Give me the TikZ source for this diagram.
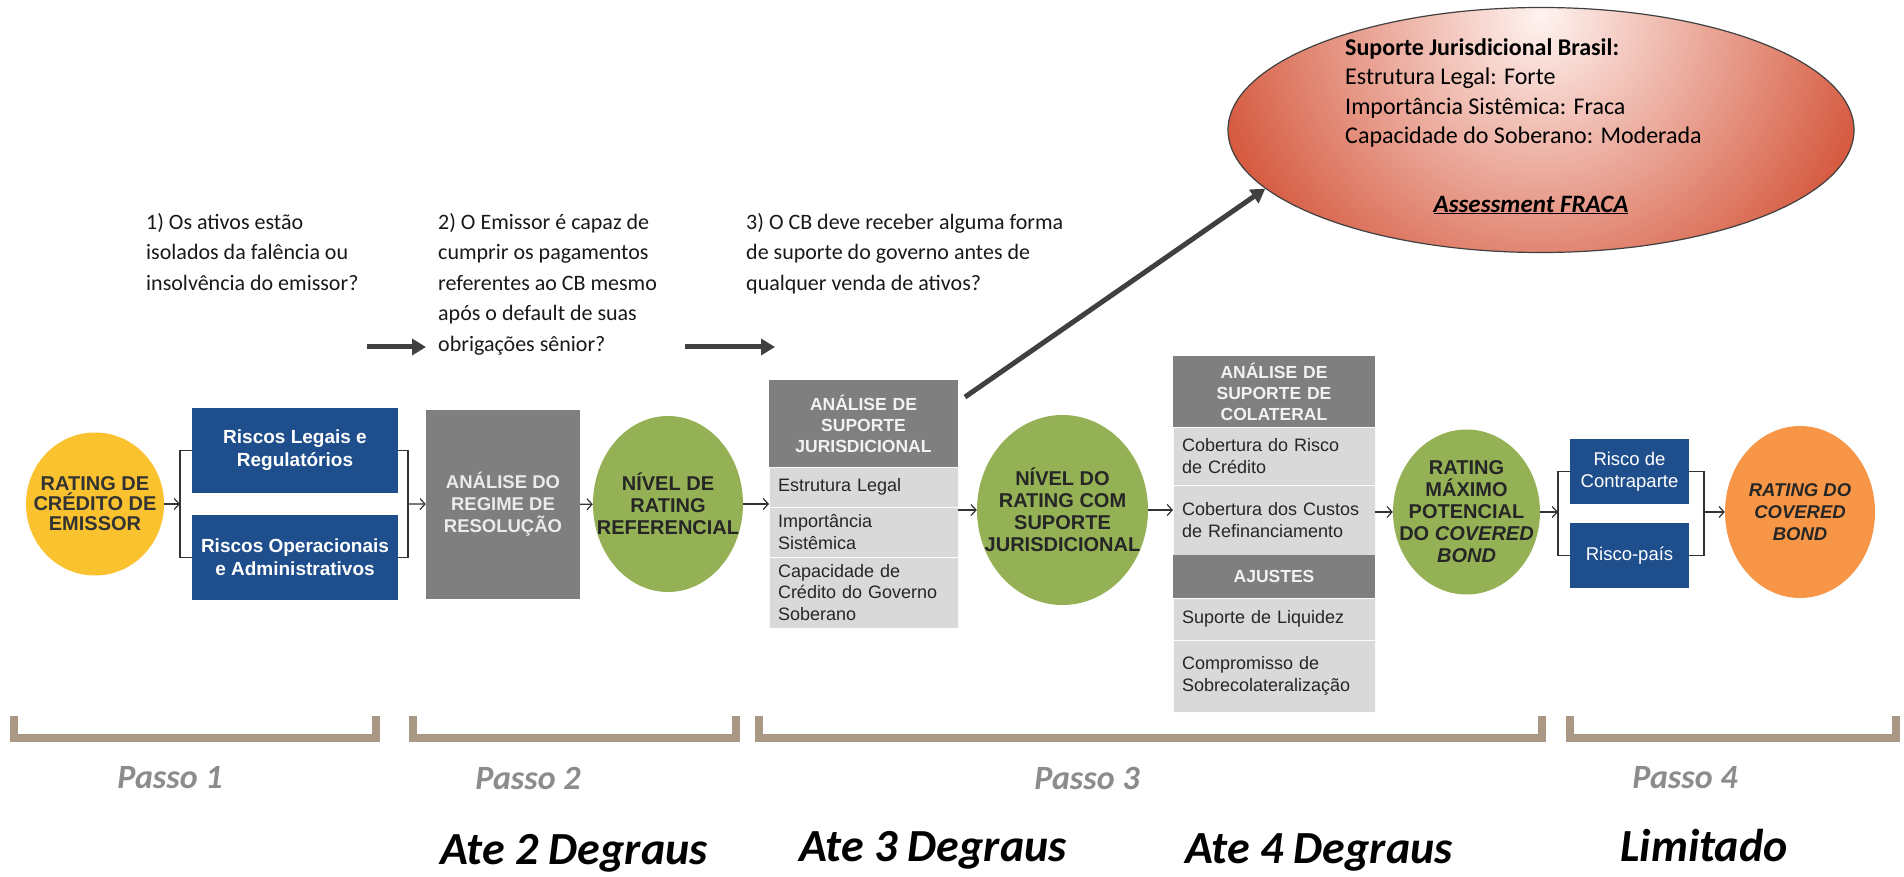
\documentclass[tikz,border=0pt]{standalone}
\usepackage{fontspec}
\setmainfont{Carlito}
\newfontfamily\arialfont{Liberation Sans}
\usetikzlibrary{positioning,shapes.geometric,arrows.meta}
\definecolor{gold}{HTML}{F9C22E}
\definecolor{navy}{HTML}{1F4E8C}
\definecolor{slate}{HTML}{7F7F7F}
\definecolor{cell}{HTML}{D9D9D9}
\definecolor{leaf}{HTML}{94B255}
\definecolor{tangerine}{HTML}{F79646}
\definecolor{ink}{HTML}{404040}
\definecolor{sand}{HTML}{A89884}
\definecolor{steel}{HTML}{8C8C8C}
\definecolor{braIn}{HTML}{FFF3F0}
\definecolor{braOut}{HTML}{D4553A}
\tikzstyle{state}=[
    ellipse,
    inner sep = -22pt,
    align = center,
    text = black!85,
    font = \arialfont\bfseries\fontsize{20}{22}\selectfont
]
\tikzstyle{blue box}=[
    fill = navy,
    text = white,
    align = center,
    font = \arialfont\bfseries\fontsize{19}{23}\selectfont
]
\tikzstyle{head cell}=[
    fill = slate,
    text = white!95!black,
    align = center,
    text width = 173pt,
    inner xsep = 8pt,
    inner ysep = 3pt,
    outer sep = 0pt,
    font = \arialfont\bfseries\fontsize{17.5}{21}\selectfont
]
\tikzstyle{row cell}=[
    fill = cell,
    draw = white!90!cell,
    line width = 1pt,
    text = black!85,
    align = left,
    text width = 171pt,
    inner xsep = 9pt,
    inner ysep = 3pt,
    outer sep = 0pt,
    font = \arialfont\fontsize{18}{21.5}\selectfont
]

\begin{document}
\begin{tikzpicture}[x=1pt, y=-1pt,
    line/.style = {draw = black!80, line width = 1.2pt},
    thin arrow/.style = {line, -{Straight Barb[length=5pt, width=11pt]}},
    big arrow/.style = {draw = ink, line width = 5pt, -{Triangle[length=14pt, width=16pt]}},
    bracket/.style = {draw = sand, line width = 8pt},
    question/.style = {anchor = north west, align = left, inner sep = 0pt, text = black!90, font = \fontsize{22}{30.5}\selectfont},
    passo/.style = {text = steel, font = \bfseries\itshape\fontsize{34}{38}\selectfont},
    degraus/.style = {font = \bfseries\itshape\fontsize{46}{50}\selectfont}]
    \fill[white] (0,0) rectangle (1904,877);
    \useasboundingbox (0,0) rectangle (1904,877);

    \node[question] (q1) at (146,213) {1) Os ativos estão\\isolados da falência ou\\insolvência do emissor?};
    \node[question] (q2) at (438,213) {2) O Emissor é capaz de\\cumprir os pagamentos\\referentes ao CB mesmo\\após o default de suas\\obrigações sênior?};
    \node[question] (q3) at (746,213) {3) O CB deve receber alguma forma\\de suporte do governo antes de\\qualquer venda de ativos?};
    \coordinate (q1a) at (367,347);
    \coordinate (q1b) at (426,347);
    \coordinate (q2a) at (685,347);
    \coordinate (q2b) at (775,347);
    \draw[big arrow] (q1a) -- (q1b);
    \draw[big arrow] (q2a) -- (q2b);

    \node[ellipse, draw = ink, line width = 1.2pt, minimum width = 626pt, minimum height = 245pt,
        path picture = {\shade[inner color = braIn, outer color = braOut]
            ([yshift=-8pt]path picture bounding box.north) circle (345pt);}] (bra) at (1541,130) {};
    \node[anchor = north west, align = left, inner sep = 0pt, font = \fontsize{24}{29.5}\selectfont] (bt) at (1345,38)
        {\textbf{Suporte Jurisdicional Brasil:}\\Estrutura Legal: Forte\\Importância Sistêmica: Fraca\\Capacidade do Soberano: Moderada};
    \node[font = \bfseries\itshape\fontsize{25}{28}\selectfont] (ass) at (1531,205) {\underline{Assessment FRACA}};

    \node[state, fill = gold, minimum width = 138pt, minimum height = 143pt, text = black!80,
        font = \arialfont\bfseries\fontsize{20}{20}\selectfont] (emi) at (95,504) {RATING DE\\CRÉDITO DE\\EMISSOR};
    \node[blue box, minimum width = 206pt, minimum height = 85pt] (rl) at (295,450.5) {Riscos Legais e\\Regulatórios};
    \node[blue box, minimum width = 206pt, minimum height = 85pt] (ro) at (295,557.5) {Riscos Operacionais\\e Administrativos};
    \coordinate (b1) at (180,504);
    \coordinate (b2) at (408,504);

    \node[fill = slate, text = white!92!black, align = center, minimum width = 154pt, minimum height = 189pt,
        font = \arialfont\bfseries\fontsize{18.5}{22}\selectfont] (reg) at (503,504.5) {ANÁLISE DO\\REGIME DE\\RESOLUÇÃO};
    \node[state, fill = leaf, minimum width = 150pt, minimum height = 176pt] (ref) at (668,504) {NÍVEL DE\\RATING\\REFERENCIAL};

    \node[head cell, minimum height = 87pt] (jh) at (863.5,423.5) {ANÁLISE DE\\SUPORTE\\JURISDICIONAL};
    \node[row cell, minimum height = 40pt, below = 0pt of jh] (j1) {Estrutura Legal};
    \node[row cell, minimum height = 50pt, below = 0pt of j1] (j2) {Importância\\Sistêmica};
    \node[row cell, minimum height = 71pt, below = 0pt of j2] (j3) {Capacidade de\\Crédito do Governo\\Soberano};

    \node[state, fill = leaf, minimum width = 171pt, minimum height = 190pt] (sup) at (1062.5,510) {NÍVEL DO\\RATING COM\\SUPORTE\\JURISDICIONAL};

    \node[head cell, text width = 186pt, minimum height = 71pt] (ch) at (1274,391.5) {ANÁLISE DE\\SUPORTE DE\\COLATERAL};
    \node[row cell, text width = 184pt, minimum height = 58pt, below = 0pt of ch] (c1) {Cobertura do Risco\\de Crédito};
    \node[row cell, text width = 184pt, minimum height = 70pt, below = 0pt of c1] (c2) {Cobertura dos Custos\\de Refinanciamento};
    \node[head cell, text width = 186pt, minimum height = 43pt, below = 0pt of c2] (ah) {AJUSTES};
    \node[row cell, text width = 184pt, minimum height = 42pt, below = 0pt of ah] (c3) {Suporte de Liquidez};
    \node[row cell, text width = 184pt, minimum height = 72pt, below = 0pt of c3] (c4) {Compromisso de\\Sobrecolateralização};

    \node[state, fill = leaf, minimum width = 147pt, minimum height = 165pt] (max) at (1466.5,512) {RATING\\MÁXIMO\\POTENCIAL\\DO \textit{COVERED}\\\textit{BOND}};
    \node[blue box, minimum width = 119pt, minimum height = 65pt, font = \arialfont\fontsize{18.5}{22}\selectfont] (rc) at (1629.5,471.5) {Risco de\\Contraparte};
    \node[blue box, minimum width = 119pt, minimum height = 65pt, font = \arialfont\fontsize{18.5}{22}\selectfont] (rp) at (1629.5,555.5) {Risco-país};
    \coordinate (b3) at (1558,512);
    \coordinate (b4) at (1704,512);
    \node[state, fill = tangerine, minimum width = 150pt, minimum height = 172pt,
        font = \arialfont\bfseries\itshape\fontsize{18.5}{22}\selectfont] (cov) at (1800,512) {RATING DO\\COVERED\\BOND};

    \draw[thin arrow] (emi) -- (b1);
    \draw[line] (rl.west) -| (b1) |- (ro.west);
    \draw[line] (rl.east) -| (b2) |- (ro.east);
    \draw[thin arrow] (b2) -- (reg);
    \draw[thin arrow] (reg) -- (ref);
    \draw[thin arrow] (ref) -- (ref -| jh.west);
    \draw[thin arrow] (sup -| jh.east) -- (sup);
    \draw[thin arrow] (sup) -- (sup -| ch.west);
    \draw[thin arrow] (max -| ch.east) -- (max);
    \draw[thin arrow] (max) -- (b3);
    \draw[line] (rc.west) -| (b3) |- (rp.west);
    \draw[line] (rc.east) -| (b4) |- (rp.east);
    \draw[thin arrow] (b4) -- (cov);
    \draw[big arrow] ([xshift=7pt, yshift=-17pt]jh.north east) -- (bra.192);

    \foreach \a/\b in {14/376, 413/736, 759/1542, 1570/1896}
        \draw[bracket] (\a,716) |- (\b,738) -- (\b,716);
    \foreach \x/\n in {170/1, 528/2, 1087/3, 1685/4}
        \node[passo] (p\n) at (\x,778) {Passo \n};

    \node[degraus] (d2) at (574,853) {Ate 2 Degraus};
    \node[degraus] (d3) at (933,850) {Ate 3 Degraus};
    \node[degraus] (d4) at (1319,852) {Ate 4 Degraus};
    \node[degraus] (lim) at (1704,846) {Limitado};
\end{tikzpicture}
\end{document}
